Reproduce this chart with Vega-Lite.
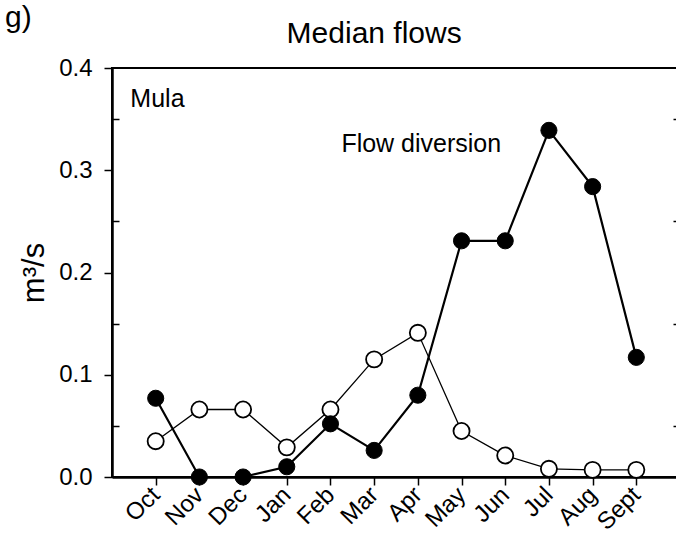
{
  "$schema": "https://vega.github.io/schema/vega-lite/v6.json",
  "autosize": {"type": "none"},
  "padding": {"left": 112, "top": 68, "right": 0, "bottom": 66},
  "width": 568,
  "height": 409,
  "background": "white",
  "config": {
    "font": "Liberation Sans",
    "view": {"stroke": "black", "strokeWidth": 2},
    "axis": {"grid": false, "domainColor": "black", "domainWidth": 2.5, "tickColor": "black", "tickWidth": 1.5, "labelColor": "black", "titleColor": "black", "labelFont": "Liberation Sans", "titleFont": "Liberation Sans"}
  },
  "datasets": {
    "flows": [
      {"i": 0, "month": "Oct", "series": "Natural", "flow": 0.035},
      {"i": 1, "month": "Nov", "series": "Natural", "flow": 0.066},
      {"i": 2, "month": "Dec", "series": "Natural", "flow": 0.066},
      {"i": 3, "month": "Jan", "series": "Natural", "flow": 0.029},
      {"i": 4, "month": "Feb", "series": "Natural", "flow": 0.066},
      {"i": 5, "month": "Mar", "series": "Natural", "flow": 0.115},
      {"i": 6, "month": "Apr", "series": "Natural", "flow": 0.141},
      {"i": 7, "month": "May", "series": "Natural", "flow": 0.045},
      {"i": 8, "month": "Jun", "series": "Natural", "flow": 0.021},
      {"i": 9, "month": "Jul", "series": "Natural", "flow": 0.008},
      {"i": 10, "month": "Aug", "series": "Natural", "flow": 0.007},
      {"i": 11, "month": "Sept", "series": "Natural", "flow": 0.007},
      {"i": 0, "month": "Oct", "series": "Flow diversion", "flow": 0.077},
      {"i": 1, "month": "Nov", "series": "Flow diversion", "flow": 0.0},
      {"i": 2, "month": "Dec", "series": "Flow diversion", "flow": 0.0},
      {"i": 3, "month": "Jan", "series": "Flow diversion", "flow": 0.01},
      {"i": 4, "month": "Feb", "series": "Flow diversion", "flow": 0.052},
      {"i": 5, "month": "Mar", "series": "Flow diversion", "flow": 0.026},
      {"i": 6, "month": "Apr", "series": "Flow diversion", "flow": 0.08},
      {"i": 7, "month": "May", "series": "Flow diversion", "flow": 0.231},
      {"i": 8, "month": "Jun", "series": "Flow diversion", "flow": 0.231},
      {"i": 9, "month": "Jul", "series": "Flow diversion", "flow": 0.339},
      {"i": 10, "month": "Aug", "series": "Flow diversion", "flow": 0.284},
      {"i": 11, "month": "Sept", "series": "Flow diversion", "flow": 0.117}
    ],
    "one": [{"note": "annotation"}]
  },
  "resolve": {"axis": {"y": "independent"}},
  "layer": [
    {
      "data": {"name": "flows"},
      "transform": [{"filter": "datum.series === 'Natural'"}],
      "mark": {"type": "line", "color": "black", "strokeWidth": 1.3},
      "encoding": {
        "x": {"field": "i", "type": "quantitative", "scale": {"domain": [-1, 12], "nice": false, "zero": false},
          "axis": {"values": [0,1,2,3,4,5,6,7,8,9,10,11], "labelExpr": "['Oct','Nov','Dec','Jan','Feb','Mar','Apr','May','Jun','Jul','Aug','Sept'][datum.value]", "labelAngle": -45, "labelAlign": "right", "labelBaseline": "middle", "labelFontSize": 24, "labelPadding": 6, "labelOverlap": false, "labelBound": false, "labelFlush": false, "tickSize": 8, "title": null}},
        "y": {"field": "flow", "type": "quantitative", "scale": {"domain": [0, 0.4], "nice": false},
          "axis": {"orient": "left", "values": [0, 0.1, 0.2, 0.3, 0.4], "format": ".1f", "labelFontSize": 24, "tickSize": 8, "labelPadding": 12, "title": "m³/s", "titleFontSize": 31, "titleFontWeight": "normal", "titlePadding": 8}}
      }
    },
    {
      "data": {"name": "flows"},
      "transform": [{"filter": "datum.series === 'Natural'"}],
      "mark": {"type": "point", "shape": "circle", "filled": true, "fill": "white", "stroke": "black", "strokeWidth": 1.8, "size": 260, "opacity": 1},
      "encoding": {
        "x": {"field": "i", "type": "quantitative"},
        "y": {"field": "flow", "type": "quantitative", "axis": {"orient": "left", "values": [0.05, 0.15, 0.25, 0.35], "labels": false, "domain": false, "tickSize": 7, "offset": -7, "title": null}}
      }
    },
    {
      "data": {"name": "flows"},
      "transform": [{"filter": "datum.series === 'Flow diversion'"}],
      "mark": {"type": "line", "color": "black", "strokeWidth": 2.2},
      "encoding": {
        "x": {"field": "i", "type": "quantitative"},
        "y": {"field": "flow", "type": "quantitative", "axis": {"orient": "right", "values": [0.05, 0.15, 0.25, 0.35], "labels": false, "domain": false, "tickSize": 7, "offset": -7, "title": null}}
      }
    },
    {
      "data": {"name": "flows"},
      "transform": [{"filter": "datum.series === 'Flow diversion'"}],
      "mark": {"type": "point", "shape": "circle", "filled": true, "fill": "black", "stroke": "black", "strokeWidth": 1, "size": 260, "opacity": 1},
      "encoding": {
        "x": {"field": "i", "type": "quantitative"},
        "y": {"field": "flow", "type": "quantitative", "axis": null}
      }
    },
    {
      "data": {"name": "one"},
      "mark": {"type": "text", "text": "Mula", "fontSize": 25, "align": "left", "baseline": "alphabetic", "fill": "black"},
      "encoding": {"x": {"datum": -0.58}, "y": {"datum": 0.362, "axis": null}}
    },
    {
      "data": {"name": "one"},
      "mark": {"type": "text", "text": "Flow diversion", "fontSize": 25, "align": "left", "baseline": "alphabetic", "fill": "black"},
      "encoding": {"x": {"datum": 4.25}, "y": {"datum": 0.318, "axis": null}}
    },
    {
      "data": {"name": "one"},
      "mark": {"type": "text", "text": "g)", "fontSize": 30, "align": "left", "baseline": "alphabetic", "fill": "black"},
      "encoding": {"x": {"datum": -3.45}, "y": {"datum": 0.44, "axis": null}}
    },
    {
      "data": {"name": "one"},
      "mark": {"type": "text", "text": "Median flows", "fontSize": 30, "align": "center", "baseline": "alphabetic", "fill": "black"},
      "encoding": {"x": {"datum": 5.0}, "y": {"datum": 0.424, "axis": null}}
    }
  ]
}
